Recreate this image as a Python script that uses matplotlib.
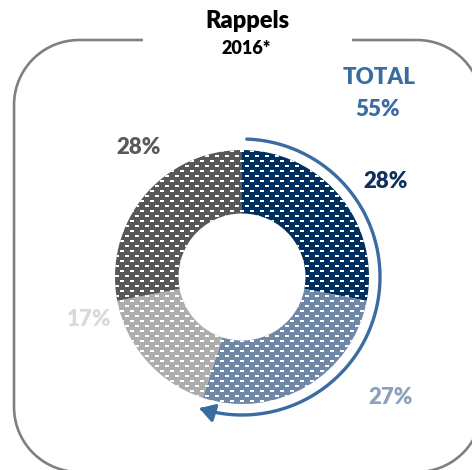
import numpy as np
import matplotlib
matplotlib.use("Agg")
import matplotlib.pyplot as plt
from matplotlib.patches import FancyArrowPatch
from matplotlib.path import Path

# Data
shares = [28, 27, 17, 28]
slice_colors = ["#00305F", "#7088A8", "#ADADAD", "#585858"]
label_texts = ["28%", "27%", "17%", "28%"]
label_colors = ["#0F2F5C", "#8CA1BB", "#D9D9D9", "#595959"]
total_label = "TOTAL"
total_value = "55%"
title = "Rappels"
subtitle = "2016*"

W, H = 472, 470
fig = plt.figure(figsize=(W / 100, H / 100), dpi=100)
ax = fig.add_axes([0, 0, 1, 1])

cx, cy = 242, H - 277
R = 127

wedges, _ = ax.pie(shares, colors=slice_colors, startangle=90, counterclock=False,
                   radius=R, center=(cx, cy),
                   wedgeprops=dict(width=R * 0.5, linewidth=0))
ax.set_xlim(0, W)
ax.set_ylim(0, H)
ax.set_aspect("equal")
ax.axis("off")

# White dash texture laid over every slice
yy, xx = np.mgrid[0:H, 0:W]
row = yy // 5
shift = (row % 2) * 5
dash = ((yy % 5) < 2) & (((xx + shift) % 10) < 4)
tex = np.zeros((H, W, 4))
tex[..., :3] = 1.0
tex[..., 3] = dash.astype(float)
for w in wedges:
    im = ax.imshow(tex, extent=(0, W, 0, H), origin="upper",
                   interpolation="nearest", zorder=3)
    im.set_clip_path(w)
ax.set_xlim(0, W)
ax.set_ylim(0, H)


# Rounded frame, open at the top for the title
def corner(xc, yc, r, a_from, a_to, n=40):
    a = np.deg2rad(np.linspace(a_from, a_to, n))
    return xc + r * np.cos(a), yc + r * np.sin(a)


xl, xr, yt, yb, rc = 14, 482, H - 40, -2, 65
segs = [
    (np.array([352, xr - rc]), np.array([yt, yt])),
    corner(xr - rc, yt - rc, rc, 90, 0),
    (np.array([xr, xr]), np.array([yt - rc, yb + rc])),
    corner(xr - rc, yb + rc, rc, 0, -90),
    (np.array([xr - rc, xl + rc]), np.array([yb, yb])),
    corner(xl + rc, yb + rc, rc, -90, -180),
    (np.array([xl, xl]), np.array([yb + rc, yt - rc])),
    corner(xl + rc, yt - rc, rc, 180, 90),
    (np.array([xl + rc, 143]), np.array([yt, yt])),
]
fx = np.concatenate([s[0] for s in segs])
fy = np.concatenate([s[1] for s in segs])
ax.plot(fx, fy, color="#808080", linewidth=1.9, solid_capstyle="butt", zorder=1)

# Arrow around the first two slices
cum = sum(shares[:2]) / sum(shares)
a0 = np.deg2rad(88)
a1 = np.deg2rad(90 - 360 * cum)
t = np.linspace(a0, a1, 200)
ra = 138
pts = np.column_stack([cx + ra * np.cos(t), cy + ra * np.sin(t)])
arrow = FancyArrowPatch(path=Path(pts), arrowstyle="-|>,head_length=9,head_width=5.5",
                        color="#3A6CA2", linewidth=2.4, zorder=4,
                        shrinkA=0, shrinkB=0)
ax.add_patch(arrow)

font = "Lato"
wt = "heavy"
ax.text(247, H - 21, title, ha="center", va="center", fontsize=17,
        fontweight=wt, family=font, color="black")
ax.text(246, H - 49, subtitle, ha="center", va="center", fontsize=13,
        fontweight=wt, family=font, color="black")
ax.text(379, H - 78, total_label, ha="center", va="center", fontsize=16,
        fontweight=wt, family=font, color="#3A6CA2")
ax.text(378, H - 110, total_value, ha="center", va="center", fontsize=16,
        fontweight=wt, family=font, color="#3A6CA2")

label_pos = [(386, 181), (391, 397), (89, 320), (139, 147)]
for txt, col, (lx, ly) in zip(label_texts, label_colors, label_pos):
    ax.text(lx, H - ly, txt, ha="center", va="center", fontsize=16,
            fontweight=wt, family=font, color=col)

fig.savefig("out.png", dpi=100)
